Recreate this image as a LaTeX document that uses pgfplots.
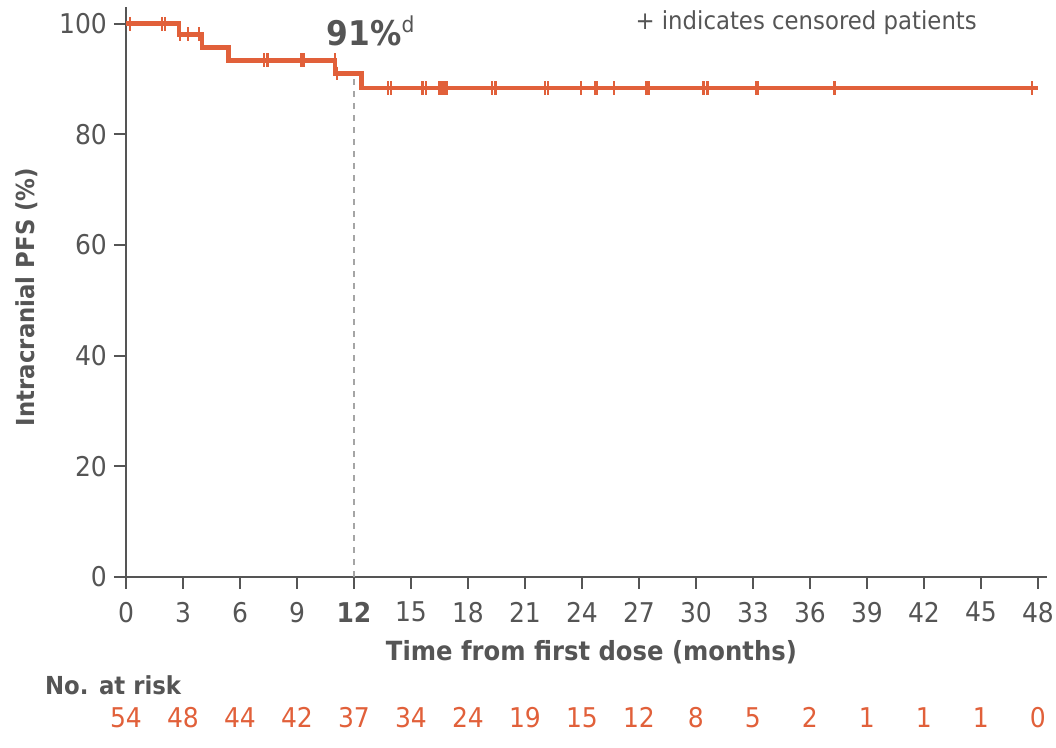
\documentclass[border=0pt]{standalone}
\usepackage{pgfplots}
\pgfplotsset{compat=1.18}
\usepackage{fontspec}
\setmainfont{DejaVu Sans}[FakeStretch=0.92]
\definecolor{km}{RGB}{225,96,58}
\definecolor{txt}{RGB}{85,85,85}
\definecolor{refgray}{RGB}{165,165,165}
\begin{document}
\begin{tikzpicture}
\begin{axis}[
  scale only axis,
  width=460.75pt, height=284.8pt,
  xmin=0, xmax=48.5, ymin=0, ymax=103,
  axis x line=bottom, axis y line=left,
  axis line style={-, txt, line width=1pt},
  xtick={0,3,...,48}, ytick={0,20,...,100},
  xticklabels={0,3,6,9,\textbf{12},15,18,21,24,27,30,33,36,39,42,45,48},
  tick style={txt, line width=1pt},
  tick align=outside, major tick length=6pt,
  tick label style={font=\fontsize{13.6pt}{15pt}\selectfont, text=txt},
  /pgf/number format/assume math mode=true,
  xticklabel style={yshift=-3pt},
  clip=false,
]
% dashed reference line at 12 months
\addplot[refgray, dashed, line width=0.8pt] coordinates {(12,0) (12,91.0)};
% KM curve
\addplot[km, line width=2.3pt, const plot] coordinates {
 (0,100) (2.8,98.1) (4.0,95.7) (5.4,93.4) (11.0,91.0) (12.4,88.4) (48,88.4)};
% censor marks
\addplot[km, only marks, mark=|, mark size=3.4pt, mark options={line width=1.2pt}] coordinates {
 (0.2,100) (1.9,100) (2.05,100)
 (2.85,98.1) (3.25,98.1) (3.85,98.1)
 (7.25,93.4) (7.45,93.4) (9.2,93.4) (9.35,93.4) (11.0,93.4)
 (11.1,91.0)
 (13.8,88.4) (13.95,88.4) (15.6,88.4) (15.8,88.4)
 (16.5,88.4) (16.6,88.4) (16.7,88.4) (16.8,88.4) (16.9,88.4)
 (19.25,88.4) (19.45,88.4) (22.05,88.4) (22.2,88.4) (23.95,88.4)
 (24.7,88.4) (24.8,88.4) (25.7,88.4) (27.4,88.4) (27.5,88.4)
 (30.4,88.4) (30.6,88.4) (33.15,88.4) (33.25,88.4) (37.3,88.4) (47.7,88.4)};
% number at risk
\addplot[only marks, mark=none, nodes near coords, point meta=explicit symbolic,
  every node near coord/.style={anchor=center, text=km, font=\fontsize{13.6pt}{15pt}\selectfont}]
  table[meta=n] {
x y n
0 -25.5 54
3 -25.5 48
6 -25.5 44
9 -25.5 42
12 -25.5 37
15 -25.5 34
18 -25.5 24
21 -25.5 19
24 -25.5 15
27 -25.5 12
30 -25.5 8
33 -25.5 5
36 -25.5 2
39 -25.5 1
42 -25.5 1
45 -25.5 1
48 -25.5 0
};
\node[anchor=center, text=txt, font=\bfseries\fontsize{13.2pt}{15pt}\selectfont] at (axis cs:24.5,-13.7) {Time from first dose (months)};
\node[anchor=center, rotate=90, text=txt, font=\bfseries\fontsize{12.4pt}{15pt}\selectfont] at (axis cs:-5.25,50.6) {Intracranial PFS (\%)};
\node[anchor=west, text=txt, font=\bfseries\fontsize{12.4pt}{15pt}\selectfont, inner sep=0pt] at (axis cs:-4.28,-19.7) {No. at risk};
\node[anchor=center, text=txt, font=\fontsize{12.4pt}{14pt}\selectfont] at (axis cs:35.8,100.2) {+ indicates censored patients};
\node[anchor=base, text=txt, font=\bfseries\fontsize{17pt}{19pt}\selectfont] at (axis cs:12.9,96.1) {91\%\textsuperscript{\normalfont\fontsize{11pt}{12pt}\selectfont d}};
\coordinate (bl) at (axis cs:-6.63,-30.9);
\coordinate (tr) at (axis cs:48.95,104.3);
\end{axis}
\pgfresetboundingbox
\path[use as bounding box] (bl) rectangle (tr);
\end{tikzpicture}
\end{document}
